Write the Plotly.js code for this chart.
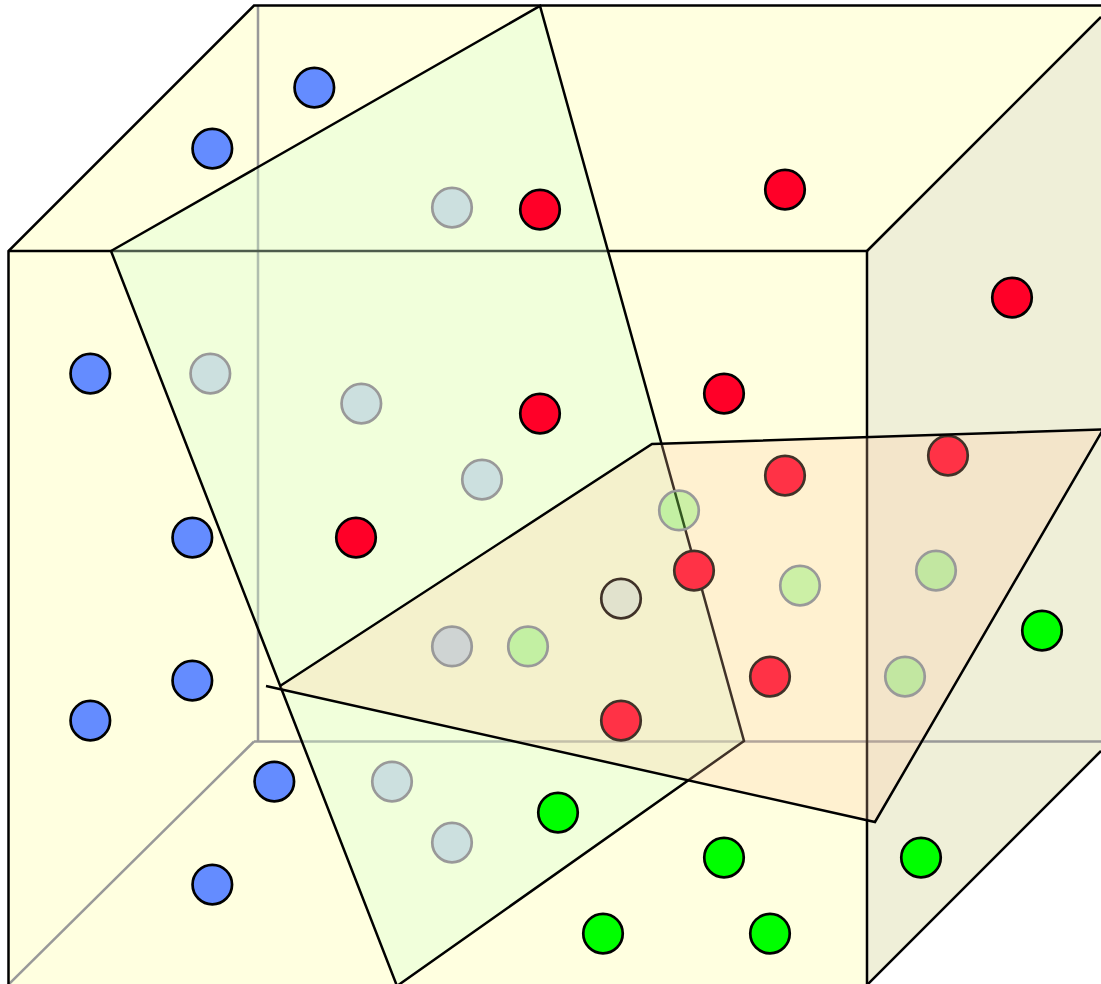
<!DOCTYPE html>
<html>
<head>
<meta charset="utf-8">
<script src="https://cdn.plot.ly/plotly-3.0.1.min.js"></script>
<style>html,body{margin:0;padding:0;background:#fff;overflow:hidden}</style>
</head>
<body>
<div id="chart" style="width:1101px;height:984px"></div>
<script>
// Points
const blueX = [314.3,212.3,90.3,192.3,192.3,90.3,274.3,212.3];
const blueY = [87.6,148.6,373.6,537.6,680.6,720.6,781.6,884.6];
const redX = [540,785,1012,724,540,356,785,948,694,770,621];
const redY = [209.6,189.6,297.6,393.6,413.6,537.6,475.6,455.6,570.6,676.6,720.6];
const limeX = [1042,558,724,921,603,770];
const limeY = [630.6,812.6,857.6,857.6,933.6,933.6];
const paleX = [621];
const paleY = [598.6];
const fadedBlueX = [452,210.3,361.3,482,452,392,452];
const fadedBlueY = [207.6,373.6,403.6,479.6,646.4,781.6,842.6];
const fadedLimeX = [679,528,800,936,905];
const fadedLimeY = [510.4,646.4,585.6,570.6,676.6];

// Cube faces and edges
const yellowFaceX = [8.5,254,1101,1101,867,867,8.5];
const yellowFaceY = [251,5.5,5.5,17,251,990,990];
const sideFaceX = [867,1101,1101,867];
const sideFaceY = [251,17,751,985];
const backEdgesX = [258,258,null,254,1101,null,6,254];
const backEdgesY = [5.5,741.5,null,741.5,741.5,null,987,741.5];
const frontEdgesX = [8.5,8.5,254,1101,null,8.5,867,867,null,867,1101,null,867,1101];
const frontEdgesY = [990,251,5.5,5.5,null,251,251,990,null,251,17,null,985,751];

// Cutting planes
const greenPlaneX = [111,540,744,397,111];
const greenPlaneY = [251,6,741,986,251];
const orangeFillX = [281,652,1101,875,281];
const orangeFillY = [686,444,429.5,822,689];
const orangeEdgesX = [280,652,1103,875,266];
const orangeEdgesY = [686,444,429.5,822,686];

const DOT = 39.5;
const RING = 2.7;
const EDGE = 2.5;

function poly(x, y, fillcolor) {
  return {x, y, mode:'lines', fill:'toself', fillcolor, line:{width:0}, hoverinfo:'skip'};
}
function edges(x, y, color) {
  return {x, y, mode:'lines', line:{color, width:EDGE}, hoverinfo:'skip'};
}
function dots(x, y, fill, ring) {
  return {x, y, mode:'markers', cliponaxis:false,
    marker:{size:DOT, color:fill, opacity:1, line:{color:ring, width:RING}}, hoverinfo:'skip'};
}

const traces = [
  poly(yellowFaceX, yellowFaceY, '#ffffe0'),
  poly(sideFaceX, sideFaceY, '#efefd8'),
  edges(backEdgesX, backEdgesY, '#999999'),
  edges(frontEdgesX, frontEdgesY, '#000000'),
  {x:greenPlaneX, y:greenPlaneY, mode:'lines', fill:'toself',
   fillcolor:'rgba(215,255,210,0.36)', line:{color:'#000000', width:EDGE}, hoverinfo:'skip'},
  dots(blueX, blueY, '#648cff', '#000000'),
  dots(redX, redY, '#ff0028', '#000000'),
  dots(limeX, limeY, '#00ff00', '#000000'),
  dots(paleX, paleY, 'rgb(215,235,220)', '#000000'),
  poly(orangeFillX, orangeFillY, 'rgba(255,200,160,0.25)'),
  edges(orangeEdgesX, orangeEdgesY, '#000000'),
  dots(fadedBlueX, fadedBlueY, 'rgba(60,100,240,0.2)', '#999999'),
  dots(fadedLimeX, fadedLimeY, 'rgba(0,240,0,0.2)', '#999999')
];

const hiddenAxis = {visible:false, showgrid:false, zeroline:false, fixedrange:true};
const layout = {
  width:1101, height:984,
  margin:{l:0,r:0,t:0,b:0},
  paper_bgcolor:'#ffffff', plot_bgcolor:'#ffffff',
  showlegend:false,
  xaxis:Object.assign({range:[0,1101]}, hiddenAxis),
  yaxis:Object.assign({range:[984,0]}, hiddenAxis)
};
Plotly.newPlot('chart', traces, layout, {staticPlot:true, displayModeBar:false});
</script>
</body>
</html>
